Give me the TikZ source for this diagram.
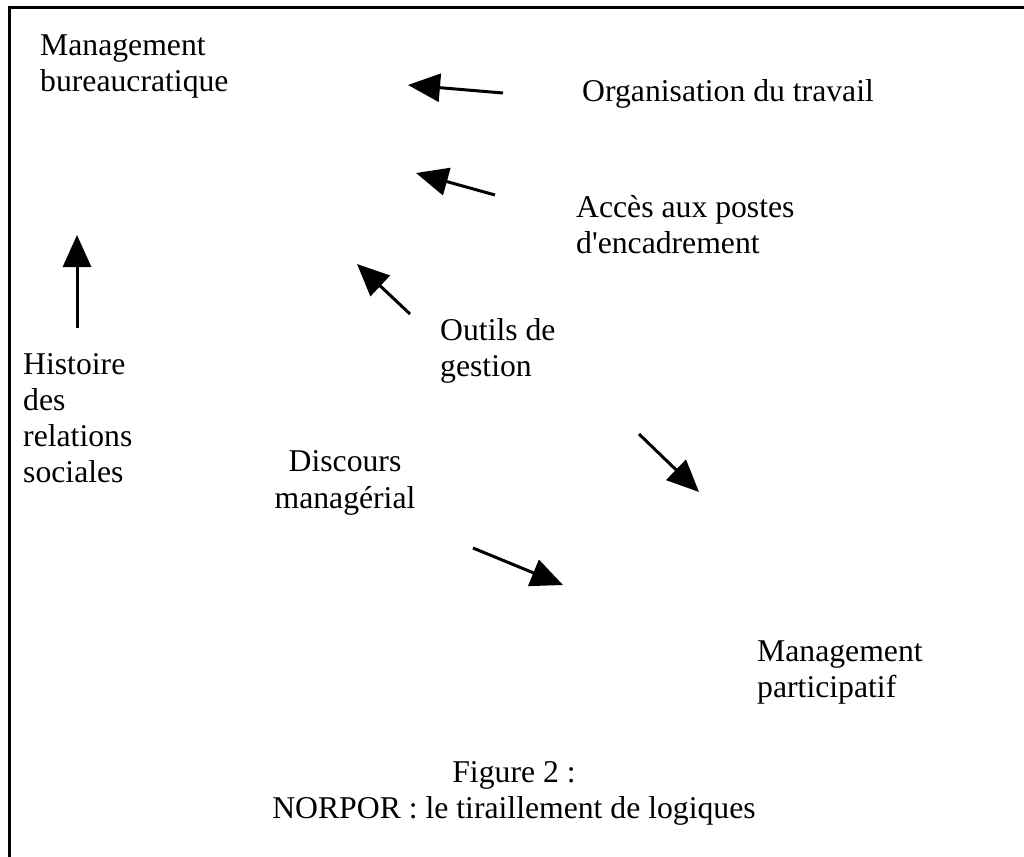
\documentclass[tikz,border=0pt]{standalone}
\usepackage{fontspec}
\setmainfont{Liberation Serif}[Ligatures=TeXOff]
\usetikzlibrary{arrows.meta}
\begin{document}
\begin{tikzpicture}[x=1pt,y=-1pt,
  lbl/.style={anchor=base west,inner sep=0pt,align=left,font=\fontsize{31.7}{36}\selectfont},
  ctr/.style={anchor=base,inner sep=0pt,align=center,font=\fontsize{31.7}{36}\selectfont},
  arr/.style={line width=3pt,-{Triangle[length=32pt,width=28pt]}}]
\clip (0,0) rectangle (1024,856);
\fill[white] (0,0) rectangle (1024,856);
\draw[line width=3pt] (9.5,7.5) rectangle (1060,900);
% texts (anchor = baseline of last line)
\node[lbl] (mb) at (40,92) {Management\\bureaucratique};
\node[lbl] (ot) at (582,102) {Organisation du travail};
\node[lbl] (ap) at (576,253) {Accès aux postes\\d'encadrement};
\node[lbl] (og) at (440,376) {Outils de\\gestion};
\node[lbl] (hr) at (23,482) {Histoire\\des\\relations\\sociales};
\node[ctr] (dm) at (345,508) {Discours\\[1pt]managérial};
\node[lbl] (mp) at (757,697) {Management\\participatif};
\node[ctr] (fig) at (514,818) {Figure 2 :\\NORPOR : le tiraillement de logiques};
% arrow ends
\coordinate (a1s) at (503,93);  \coordinate (a1e) at (408,85);
\coordinate (a2s) at (495,195); \coordinate (a2e) at (416,173);
\coordinate (a3s) at (410,314); \coordinate (a3e) at (357,264);
\coordinate (a4s) at (639,434); \coordinate (a4e) at (699,492);
\coordinate (a5s) at (473,548); \coordinate (a5e) at (563,585);
\coordinate (a6s) at (77,328);  \coordinate (a6e) at (77,235);
\draw[arr] (a1s) -- (a1e);
\draw[arr] (a2s) -- (a2e);
\draw[arr] (a3s) -- (a3e);
\draw[arr] (a4s) -- (a4e);
\draw[arr] (a5s) -- (a5e);
\draw[arr] (a6s) -- (a6e);
\end{tikzpicture}
\end{document}
